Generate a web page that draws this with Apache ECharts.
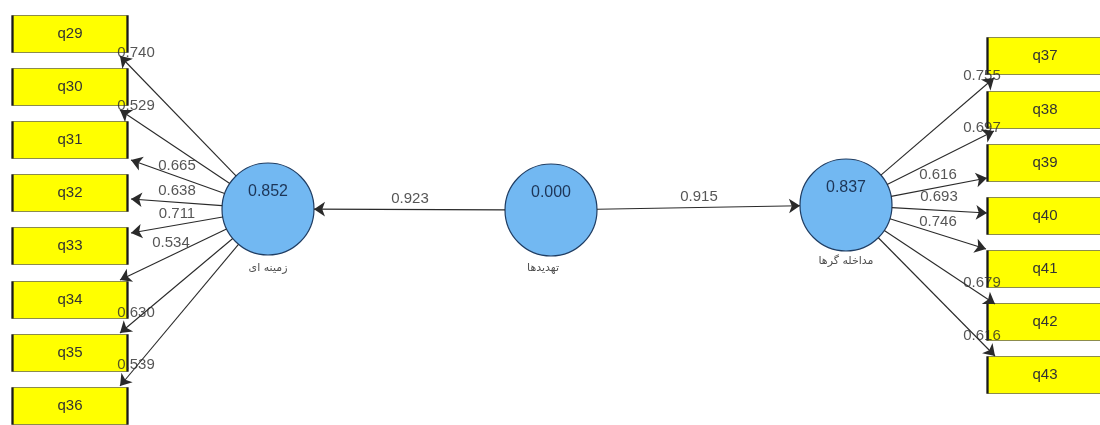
<!DOCTYPE html>
<html>
<head>
<meta charset="utf-8">
<script src="https://cdn.jsdelivr.net/npm/echarts@6/dist/echarts.min.js"></script>
<style>html,body{margin:0;padding:0;background:#fff;}#c{width:1100px;height:425px;}</style>
</head>
<body>
<div id="c"></div>
<script>
// ---- data ----
const leftIndicators = ['q29','q30','q31','q32','q33','q34','q35','q36'];
const leftLoadings = [0.740, 0.529, 0.665, 0.638, 0.711, 0.534, 0.630, 0.539];
const rightIndicators = ['q37','q38','q39','q40','q41','q42','q43'];
const rightLoadings = [0.755, 0.697, 0.616, 0.693, 0.746, 0.679, 0.616];
const constructNames = ['زمینه ای', 'تهدیدها', 'مداخله گرها'];
const rSquared = [0.852, 0.000, 0.837];
const pathCoefficients = [0.923, 0.915]; // تهدیدها -> زمینه ای , تهدیدها -> مداخله گرها

// ---- layout (pixel positions, not data) ----
const L = {
  centers: [[268, 209], [551, 210], [846, 205]],
  radius: 46,
  leftBoxX: 70,
  rightBoxX: 1045,
  boxSize: [115, 37],
  leftBoxY: [34, 87, 140, 193, 246, 300, 353, 406],
  rightBoxY: [56, 110, 163, 216, 269, 322, 375],
  leftTips: [[120,56],[120,110],[131,160],[131,199],[131,233],[120,280],[120,333],[120,386]],
  rightTips: [[994,78],[994,131],[987,178],[987,213],[986,249],[995,304],[995,356]],
  leftLabels: [[136,53],[136,106],[177,166],[177,191],[177,214],[171,243],[136,313],[136,365]],
  rightLabels: [[982,76],[982,128],[938,175],[939,197],[938,222],[982,283],[982,336]],
  pathLabels: [[410,199],[699,197]],
  nameOffsetY: [59, 58, 56],
  nameDx: [0, -8, 0]
};

function borderPoint(c, t, r) {
  const dx = t[0] - c[0], dy = t[1] - c[1];
  const d = Math.sqrt(dx * dx + dy * dy);
  return [c[0] + dx / d * r, c[1] + dy / d * r];
}

const boxes = [];
leftIndicators.forEach((n, i) => boxes.push({ name: n, value: [L.leftBoxX, L.leftBoxY[i]] }));
rightIndicators.forEach((n, i) => boxes.push({ name: n, value: [L.rightBoxX, L.rightBoxY[i]] }));

const circles = constructNames.map((n, i) => ({ name: n, value: [L.centers[i][0], L.centers[i][1]], r2: rSquared[i] }));
const names = constructNames.map((n, i) => ({ name: n, value: [L.centers[i][0] + L.nameDx[i], L.centers[i][1] + L.nameOffsetY[i]] }));

const edges = [];
leftIndicators.forEach((n, i) => edges.push({ coords: [borderPoint(L.centers[0], L.leftTips[i], L.radius), L.leftTips[i]] }));
rightIndicators.forEach((n, i) => edges.push({ coords: [borderPoint(L.centers[2], L.rightTips[i], L.radius), L.rightTips[i]] }));
// structural paths
edges.push({ coords: [borderPoint(L.centers[1], L.centers[0], L.radius), borderPoint(L.centers[0], L.centers[1], L.radius)] });
edges.push({ coords: [borderPoint(L.centers[1], L.centers[2], L.radius), borderPoint(L.centers[2], L.centers[1], L.radius)] });

const coefLabels = [];
leftLoadings.forEach((v, i) => coefLabels.push({ name: v.toFixed(3), value: L.leftLabels[i] }));
rightLoadings.forEach((v, i) => coefLabels.push({ name: v.toFixed(3), value: L.rightLabels[i] }));
pathCoefficients.forEach((v, i) => coefLabels.push({ name: v.toFixed(3), value: L.pathLabels[i] }));

const chart = echarts.init(document.getElementById('c'), null, { renderer: 'canvas' });
chart.setOption({
  backgroundColor: '#ffffff',
  animation: false,
  grid: { left: 0, right: 0, top: 0, bottom: 0 },
  xAxis: { type: 'value', min: 0, max: 1100, show: false },
  yAxis: { type: 'value', min: 0, max: 425, inverse: true, show: false },
  series: [
    {
      type: 'scatter', name: 'indicators', z: 2,
      symbol: 'rect', symbolSize: L.boxSize,
      itemStyle: { color: '#ffff00', borderColor: '#1a1a1a', borderWidth: 1.3, opacity: 1 },
      label: { show: true, position: 'inside', formatter: p => p.name, color: '#333', fontSize: 15, fontFamily: 'Liberation Sans, Arial, sans-serif' },
      emphasis: { disabled: true },
      data: boxes
    },
    {
      type: 'scatter', name: 'constructs', z: 2,
      symbol: 'circle', symbolSize: L.radius * 2,
      itemStyle: { color: '#72b8f2', borderColor: '#1f3d63', borderWidth: 1.2, opacity: 1 },
      label: { show: true, position: 'inside', offset: [0, -17], formatter: p => p.data.r2.toFixed(3), color: '#1d3557', fontSize: 16, fontFamily: 'Liberation Sans, Arial, sans-serif' },
      emphasis: { disabled: true },
      data: circles
    },
    {
      type: 'scatter', name: 'names', z: 3,
      symbolSize: 0,
      label: { show: true, position: 'inside', formatter: p => p.name, color: '#222', fontSize: 11, fontFamily: 'DejaVu Sans, sans-serif' },
      data: names
    },
    {
      type: 'lines', coordinateSystem: 'cartesian2d', z: 4,
      symbol: ['none', 'arrow'], symbolSize: 11,
      lineStyle: { color: '#2a2a2a', width: 1.1, opacity: 1 },
      data: edges
    },
    {
      type: 'scatter', name: 'coefficients', z: 5,
      symbolSize: 0,
      label: { show: true, position: 'inside', formatter: p => p.name, color: '#2a2a2a', fontSize: 15, fontFamily: 'Liberation Sans, Arial, sans-serif' },
      data: coefLabels
    }
  ]
});
</script>
</body>
</html>
